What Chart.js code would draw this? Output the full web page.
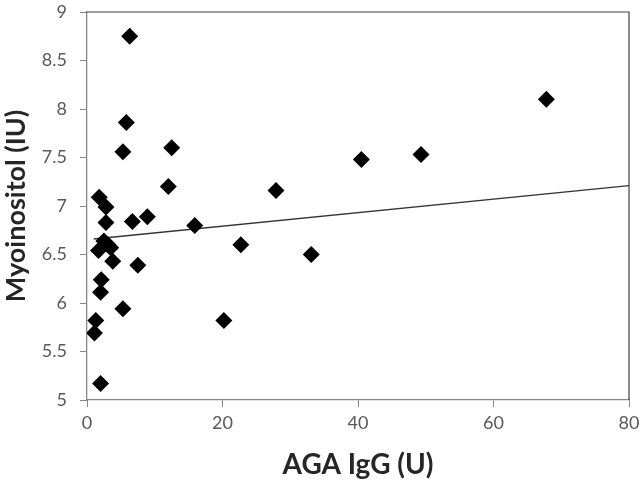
<!DOCTYPE html>
<html lang="en">
<head>
    <meta charset="UTF-8">
    <title>Myoinositol vs AGA IgG</title>
    <script src="https://cdn.jsdelivr.net/npm/chart.js"></script>
    <style>
        html, body { margin: 0; padding: 0; background: #fff; }
        .container { width: 641px; height: 485px; }
    </style>
</head>
<body>
    <div class="container">
        <canvas id="scatter"></canvas>
    </div>

    <script>
        // AGA IgG (U) and myoinositol (IU) per patient
        const agaIgG = [6.3, 5.8, 5.3, 12.5, 12.0, 1.8, 2.8, 2.8, 6.7, 8.9,
                        15.9, 2.5, 3.1, 1.7, 3.5, 3.8, 7.5, 2.1, 2.0, 5.3,
                        1.3, 1.1, 2.0, 20.2, 22.7, 27.9, 33.1, 40.5, 49.3, 67.8];
        const myoinositol = [8.75, 7.86, 7.56, 7.60, 7.20, 7.09, 6.99, 6.83, 6.84, 6.89,
                             6.80, 6.64, 6.60, 6.54, 6.57, 6.43, 6.39, 6.24, 6.11, 5.94,
                             5.82, 5.69, 5.17, 5.82, 6.60, 7.16, 6.50, 7.48, 7.53, 8.10];

        // linear trend line end points
        const trendX = [1, 80];
        const trendY = [6.66, 7.21];

        const xTicks = [0, 20, 40, 60, 80];
        const yTicks = [5, 5.5, 6, 6.5, 7, 7.5, 8, 8.5, 9];

        const points = agaIgG.map((x, i) => ({ x: x, y: myoinositol[i] }));
        const trend = trendX.map((x, i) => ({ x: x, y: trendY[i] }));

        // draws the plot-area frame on top and right like the original
        const frame = {
            id: 'frame',
            beforeDatasetsDraw(chart) {
                const a = chart.chartArea, ctx = chart.ctx;
                ctx.save();
                ctx.strokeStyle = '#404040';
                ctx.lineWidth = 1.2;
                ctx.beginPath();
                ctx.moveTo(a.left, a.top);
                ctx.lineTo(a.right, a.top);
                ctx.lineTo(a.right, a.bottom);
                ctx.stroke();
                ctx.restore();
            }
        };

        new Chart(document.getElementById('scatter'), {
            type: 'scatter',
            data: {
                datasets: [
                    {
                        label: 'Patients',
                        data: points,
                        pointStyle: 'rectRot',
                        pointRadius: 8.5,
                        pointHoverRadius: 8.5,
                        backgroundColor: '#000',
                        borderColor: '#000',
                        borderWidth: 0,
                        order: 1
                    },
                    {
                        label: 'Trend',
                        data: trend,
                        type: 'line',
                        showLine: true,
                        pointRadius: 0,
                        borderColor: '#333',
                        borderWidth: 1.3,
                        fill: false,
                        order: 2
                    }
                ]
            },
            options: {
                responsive: true,
                maintainAspectRatio: false,
                animation: false,
                layout: { padding: { left: 0, right: 12, top: 12, bottom: 0 } },
                plugins: {
                    legend: { display: false },
                    tooltip: { enabled: false }
                },
                scales: {
                    x: {
                        type: 'linear',
                        min: 0,
                        max: 80,
                        afterBuildTicks: axis => { axis.ticks = xTicks.map(v => ({ value: v })); },
                        afterFit: axis => {
                            axis.height = 85;
                            axis.paddingLeft = 0;
                            axis.paddingRight = 0;
                        },
                        grid: { drawOnChartArea: false, tickLength: 7, color: '#868686' },
                        border: { color: '#868686', width: 1.3 },
                        ticks: {
                            padding: 5,
                            color: '#595959',
                            font: { family: 'Lato', size: 18 },
                            callback: v => String(v)
                        },
                        title: {
                            display: true,
                            text: 'AGA IgG (U)',
                            color: '#262626',
                            padding: { top: 10, bottom: 3 },
                            font: { family: 'Lato', size: 28, weight: 'bold' }
                        }
                    },
                    y: {
                        type: 'linear',
                        min: 5,
                        max: 9,
                        afterBuildTicks: axis => { axis.ticks = yTicks.map(v => ({ value: v })); },
                        afterFit: axis => {
                            axis.width = 87;
                            axis.paddingTop = 0;
                            axis.paddingBottom = 0;
                        },
                        grid: { drawOnChartArea: false, tickLength: 7, color: '#868686' },
                        border: { color: '#868686', width: 1.3 },
                        ticks: {
                            padding: 13,
                            color: '#595959',
                            font: { family: 'Lato', size: 18 },
                            callback: v => String(v)
                        },
                        title: {
                            display: true,
                            text: 'Myoinositol (IU)',
                            color: '#262626',
                            padding: { top: 0, bottom: 0 },
                            font: { family: 'Lato', size: 27, weight: 'bold' }
                        }
                    }
                }
            },
            plugins: [frame]
        });
    </script>
</body>
</html>
